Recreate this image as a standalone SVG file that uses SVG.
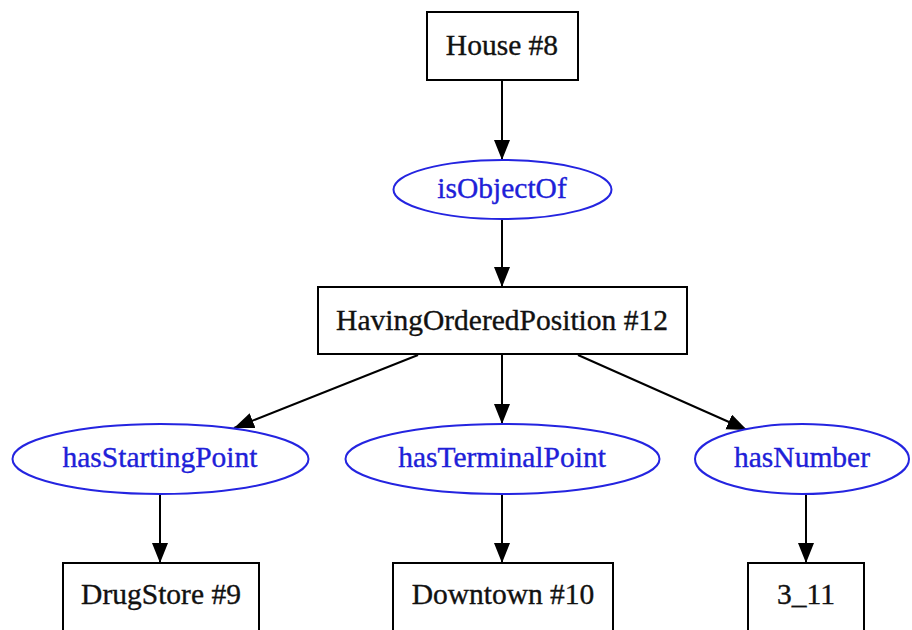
<svg xmlns="http://www.w3.org/2000/svg" width="912" height="630" viewBox="0 0 912 630">
<style>
.box{fill:#fff;stroke:#000;stroke-width:2}
.ell{fill:#fff;stroke:#2424e0;stroke-width:2}
.k{fill:#111;stroke:#111;stroke-width:0.35}
.b{fill:#2020d8;stroke:#2020d8;stroke-width:0.35}
.e{stroke:#000;stroke-width:2;fill:none}
</style>
<defs>
<marker id="ah" markerUnits="userSpaceOnUse" markerWidth="22" markerHeight="18" refX="20" refY="8" orient="auto">
<path d="M0,0 L20,8 L0,16 Z" fill="#000"/>
</marker>
</defs>
<rect width="912" height="630" fill="#fff"/>
<g id="edges">
<line class="e" marker-end="url(#ah)" x1="502" y1="80" x2="502" y2="160"/>
<line class="e" marker-end="url(#ah)" x1="502" y1="219" x2="502" y2="287"/>
<line class="e" marker-end="url(#ah)" x1="418" y1="355" x2="234" y2="428"/>
<line class="e" marker-end="url(#ah)" x1="502" y1="355" x2="502" y2="424"/>
<line class="e" marker-end="url(#ah)" x1="578" y1="355" x2="747" y2="430"/>
<line class="e" marker-end="url(#ah)" x1="160" y1="494" x2="160" y2="563"/>
<line class="e" marker-end="url(#ah)" x1="502" y1="494" x2="502" y2="563"/>
<line class="e" marker-end="url(#ah)" x1="806" y1="494" x2="806" y2="563"/>
</g>
<g id="house8"><rect class="box" x="427" y="12" width="151" height="68"/><text class="k" font-family="Times New Roman, Liberation Serif, serif" font-size="29.5" text-anchor="middle" x="502" y="55">House #8</text></g>
<g id="isObjectOf"><ellipse class="ell" cx="502.5" cy="189.5" rx="109" ry="29.5"/><text class="b" font-family="Times New Roman, Liberation Serif, serif" font-size="29.5" text-anchor="middle" x="502" y="198">isObjectOf</text></g>
<g id="hop12"><rect class="box" x="318" y="287" width="369" height="67"/><text class="k" font-family="Times New Roman, Liberation Serif, serif" font-size="29.5" text-anchor="middle" x="502" y="330">HavingOrderedPosition #12</text></g>
<g id="hasStartingPoint"><ellipse class="ell" cx="160.5" cy="459" rx="148" ry="35"/><text class="b" font-family="Times New Roman, Liberation Serif, serif" font-size="29.5" text-anchor="middle" x="160" y="467">hasStartingPoint</text></g>
<g id="hasTerminalPoint"><ellipse class="ell" cx="502.5" cy="459" rx="157" ry="35"/><text class="b" font-family="Times New Roman, Liberation Serif, serif" font-size="29.5" text-anchor="middle" x="502" y="467">hasTerminalPoint</text></g>
<g id="hasNumber"><ellipse class="ell" cx="802" cy="459" rx="107" ry="35"/><text class="b" font-family="Times New Roman, Liberation Serif, serif" font-size="29.5" text-anchor="middle" x="802" y="467">hasNumber</text></g>
<g id="drugstore9"><rect class="box" x="63" y="563" width="196" height="72"/><text class="k" font-family="Times New Roman, Liberation Serif, serif" font-size="29.5" text-anchor="middle" x="161" y="604">DrugStore #9</text></g>
<g id="downtown10"><rect class="box" x="393" y="563" width="220" height="72"/><text class="k" font-family="Times New Roman, Liberation Serif, serif" font-size="29.5" text-anchor="middle" x="503" y="604">Downtown #10</text></g>
<g id="n311"><rect class="box" x="748" y="563" width="116" height="72"/><text class="k" font-family="Times New Roman, Liberation Serif, serif" font-size="29.5" text-anchor="middle" x="806" y="604">3_11</text></g>
</svg>
